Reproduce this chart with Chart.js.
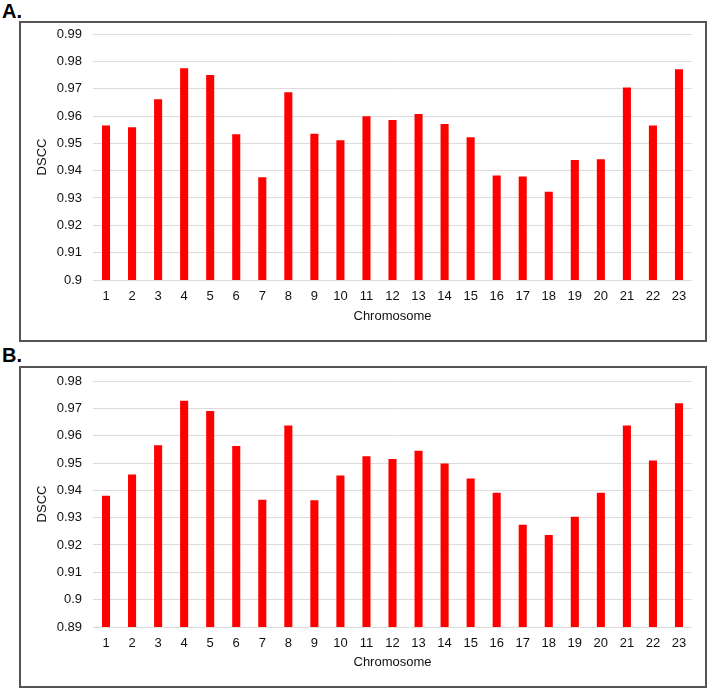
<!DOCTYPE html>
<html>
<head>
<meta charset="utf-8">
<script src="https://cdn.jsdelivr.net/npm/chart.js@4"></script>
<style>
  html, body { margin: 0; padding: 0; background: #fff; }
  body { width: 708px; height: 689px; position: relative; overflow: hidden; font-family: "Liberation Sans", Arial, sans-serif; }
  .lbl { position: absolute; font-weight: bold; font-size: 20px; color: #000; line-height: 1; }
  .box { position: absolute; left: 19px; width: 688px; border: 2px solid #555; box-sizing: border-box; }
  canvas { position: absolute; left: 0; top: 0; }
</style>
</head>
<body>
<div class="lbl" style="left:2px; top:1px;">A.</div>
<div class="box" style="top:21px; height:321px;"><canvas id="cA" width="684" height="317"></canvas></div>
<div class="lbl" style="left:2px; top:345px;">B.</div>
<div class="box" style="top:366px; height:322px;"><canvas id="cB" width="684" height="318"></canvas></div>
<script>
const chromosomes = ["1","2","3","4","5","6","7","8","9","10","11","12","13","14","15","16","17","18","19","20","21","22","23"];
const dsccA = [0.9565,0.9559,0.9661,0.9775,0.9750,0.9533,0.9376,0.9687,0.9535,0.9511,0.9599,0.9585,0.9607,0.9571,0.9522,0.9382,0.9379,0.9323,0.9439,0.9442,0.9704,0.9565,0.9771];
const dsccB = [0.9380,0.9458,0.9565,0.9728,0.9690,0.9562,0.9366,0.9637,0.9364,0.9454,0.9525,0.9515,0.9545,0.9498,0.9443,0.9391,0.9274,0.9237,0.9303,0.9391,0.9637,0.9509,0.9719];
const yRangeA = [0.90, 0.99];
const yRangeB = [0.89, 0.98];
const xTitle = "Chromosome";
const yTitle = "DSCC";

function makeChart(id, values, range, padTop, xAxisH) {
  const font = { family: '"Liberation Sans", Arial, sans-serif', size: 13 };
  return new Chart(document.getElementById(id), {
    type: 'bar',
    data: {
      labels: chromosomes,
      datasets: [{
        data: values,
        backgroundColor: '#ff0000',
        borderWidth: 0,
        barPercentage: 0.31,
        categoryPercentage: 1.0
      }]
    },
    options: {
      responsive: false,
      animation: false,
      devicePixelRatio: 1,
      layout: { padding: { top: padTop, right: 13, left: 0, bottom: 0 } },
      plugins: { legend: { display: false }, tooltip: { enabled: false } },
      scales: {
        x: {
          grid: { display: false, drawTicks: false },
          border: { display: false },
          ticks: { color: '#111', font: font, padding: 9, maxRotation: 0, autoSkip: false },
          title: { display: true, text: xTitle, color: '#111', font: font, padding: 16 },
          afterFit: s => { s.height = xAxisH; }
        },
        y: {
          min: range[0],
          max: range[1],
          grid: { color: '#dcdcdc', lineWidth: 1, drawTicks: true, tickLength: 11, tickColor: 'rgba(0,0,0,0)' },
          border: { display: false },
          ticks: {
            stepSize: 0.01,
            color: '#111',
            font: font,
            padding: 0,
            callback: v => String(Number(v.toFixed(2)))
          },
          title: { display: true, text: yTitle, color: '#111', font: font, padding: 14 },
          afterFit: s => { s.width = 72; }
        }
      }
    }
  });
}

makeChart('cA', dsccA, yRangeA, 11, 60);
makeChart('cB', dsccB, yRangeB, 13, 59);
</script>
</body>
</html>
